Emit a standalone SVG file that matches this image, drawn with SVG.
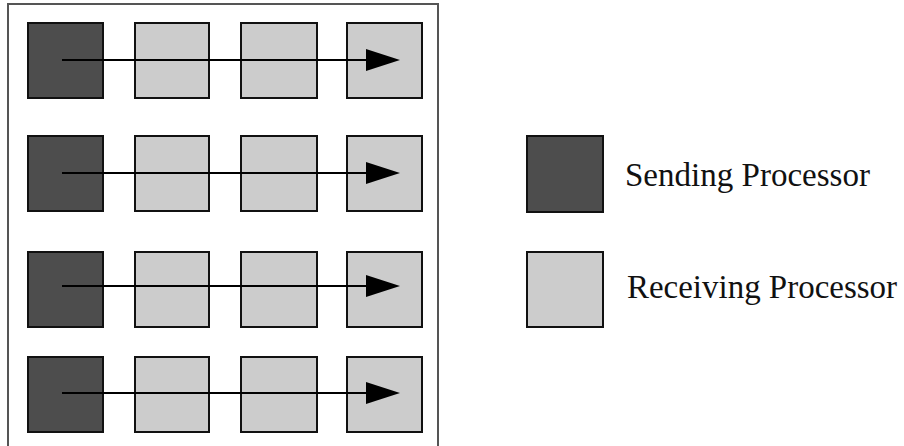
<svg xmlns="http://www.w3.org/2000/svg" width="904" height="446" viewBox="0 0 904 446">
  <style>
    .frame { fill: none; stroke: #555; stroke-width: 2; }
    .send { fill: #4d4d4d; stroke: #111; stroke-width: 2; }
    .recv { fill: #cccccc; stroke: #111; stroke-width: 2; }
    .msg { fill: none; stroke: #000; stroke-width: 2; }
    .label { font-family: "Liberation Serif", "Times New Roman", serif; font-size: 33px; fill: #111; }
  </style>
  <defs>
    <marker id="arrow" markerUnits="userSpaceOnUse" markerWidth="36" markerHeight="26" refX="1" refY="12" orient="auto">
      <path d="M1,1 L35,12 L1,23 Z" fill="#000"/>
    </marker>
  </defs>

  <rect width="904" height="446" fill="#fff"/>

  <!-- processor grid frame -->
  <rect class="frame" x="8" y="4" width="430" height="446"/>

  <!-- row 1 -->
  <g id="p1-1"><rect class="send" x="28" y="23" width="75" height="75"/></g>
  <g id="p1-2"><rect class="recv" x="135" y="23" width="74" height="75"/></g>
  <g id="p1-3"><rect class="recv" x="241" y="23" width="76" height="75"/></g>
  <g id="p1-4"><rect class="recv" x="347" y="23" width="75" height="75"/></g>

  <!-- row 2 -->
  <g id="p2-1"><rect class="send" x="28" y="136" width="75" height="75"/></g>
  <g id="p2-2"><rect class="recv" x="135" y="136" width="74" height="75"/></g>
  <g id="p2-3"><rect class="recv" x="241" y="136" width="76" height="75"/></g>
  <g id="p2-4"><rect class="recv" x="347" y="136" width="75" height="75"/></g>

  <!-- row 3 -->
  <g id="p3-1"><rect class="send" x="28" y="252" width="75" height="75"/></g>
  <g id="p3-2"><rect class="recv" x="135" y="252" width="74" height="75"/></g>
  <g id="p3-3"><rect class="recv" x="241" y="252" width="76" height="75"/></g>
  <g id="p3-4"><rect class="recv" x="347" y="252" width="75" height="75"/></g>

  <!-- row 4 -->
  <g id="p4-1"><rect class="send" x="28" y="357" width="75" height="75"/></g>
  <g id="p4-2"><rect class="recv" x="135" y="357" width="74" height="75"/></g>
  <g id="p4-3"><rect class="recv" x="241" y="357" width="76" height="75"/></g>
  <g id="p4-4"><rect class="recv" x="347" y="357" width="75" height="75"/></g>

  <!-- broadcast messages along each row -->
  <g id="connectors">
    <line class="msg" x1="62" y1="60" x2="366" y2="60" marker-end="url(#arrow)"/>
    <line class="msg" x1="62" y1="173" x2="366" y2="173" marker-end="url(#arrow)"/>
    <line class="msg" x1="62" y1="286" x2="366" y2="286" marker-end="url(#arrow)"/>
    <line class="msg" x1="62" y1="393" x2="366" y2="393" marker-end="url(#arrow)"/>
  </g>

  <!-- legend -->
  <g id="legend-send">
    <rect class="send" x="527" y="136" width="76" height="76"/>
    <text class="label" x="625" y="186" textLength="245" lengthAdjust="spacingAndGlyphs">Sending Processor</text>
  </g>
  <g id="legend-recv">
    <rect class="recv" x="527" y="252" width="76" height="75"/>
    <text class="label" x="627" y="298" textLength="270" lengthAdjust="spacingAndGlyphs">Receiving Processor</text>
  </g>
</svg>
